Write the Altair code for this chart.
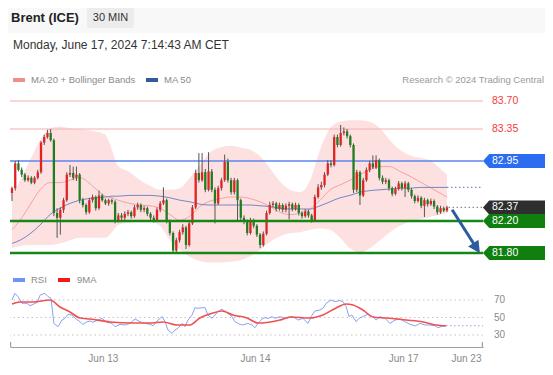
import altair as alt
import pandas as pd

# ---------------- data ----------------
opens = [82.55,82.61,82.92,82.84,82.78,82.71,82.74,82.68,82.74,82.81,
83.18,83.25,83.30,83.21,82.30,82.24,82.34,82.46,82.78,82.80,
82.74,82.78,82.46,82.40,82.31,82.46,82.50,82.36,82.52,82.46,
82.42,82.46,82.44,82.20,82.27,82.24,82.29,82.31,82.26,82.37,
82.40,82.34,82.36,82.29,82.24,82.21,82.34,82.42,82.46,82.20,
82.05,81.83,81.96,82.06,82.12,81.90,82.17,82.37,82.80,82.71,
82.81,82.59,82.82,82.59,82.42,82.61,82.71,82.94,82.71,82.56,
82.71,82.46,82.24,82.19,82.05,82.21,82.14,82.03,81.90,82.04,
82.30,82.40,82.42,82.35,82.40,82.34,82.39,82.41,82.35,82.40,
82.30,82.26,82.32,82.27,82.21,82.50,82.62,82.65,82.78,82.92,
82.90,83.25,83.15,83.30,83.32,83.26,83.15,82.59,82.81,82.52,
82.71,82.84,82.92,82.87,82.96,82.74,82.69,82.71,82.61,82.54,
82.60,82.67,82.61,82.67,82.59,82.51,82.45,82.49,82.39,82.46,
82.41,82.45,82.38,82.31,82.36,82.33]
closes = [82.61,82.92,82.84,82.78,82.71,82.74,82.68,82.74,82.81,83.18,
83.25,83.30,83.21,82.30,82.24,82.34,82.46,82.78,82.80,82.74,
82.78,82.46,82.40,82.31,82.46,82.50,82.36,82.52,82.46,82.42,
82.46,82.44,82.20,82.27,82.24,82.29,82.31,82.26,82.37,82.40,
82.34,82.36,82.29,82.24,82.21,82.34,82.42,82.46,82.20,82.05,
81.83,81.96,82.06,82.12,81.90,82.17,82.37,82.80,82.71,82.81,
82.59,82.82,82.59,82.42,82.61,82.71,82.94,82.71,82.56,82.71,
82.46,82.24,82.19,82.05,82.21,82.14,82.03,81.90,82.04,82.30,
82.40,82.42,82.35,82.40,82.34,82.39,82.41,82.35,82.40,82.30,
82.26,82.32,82.27,82.21,82.50,82.62,82.65,82.78,82.92,82.90,
83.25,83.15,83.30,83.32,83.26,83.15,82.59,82.81,82.52,82.71,
82.84,82.92,82.87,82.96,82.74,82.69,82.71,82.61,82.54,82.60,
82.67,82.61,82.67,82.59,82.51,82.45,82.49,82.39,82.46,82.41,
82.45,82.38,82.31,82.36,82.33,82.37]
highs = [82.63,82.95,82.96,82.87,82.80,82.77,82.76,82.76,82.84,83.20,
83.28,83.34,83.35,83.23,82.36,82.37,82.49,82.81,82.90,82.88,
82.88,82.80,82.49,82.42,82.49,82.53,82.52,82.58,82.54,82.48,
82.48,82.48,82.46,82.30,82.30,82.32,82.34,82.33,82.40,82.43,
82.42,82.39,82.38,82.31,82.27,82.37,82.45,82.62,82.48,82.22,
82.07,81.99,82.09,82.16,82.14,82.20,82.40,82.84,83.05,83.05,
82.85,83.06,82.85,82.62,82.64,82.74,83.03,82.98,82.74,82.74,
82.73,82.48,82.27,82.22,82.24,82.23,82.16,82.05,82.07,82.33,
82.44,82.45,82.44,82.43,82.42,82.42,82.44,82.43,82.43,82.42,
82.32,82.35,82.34,82.29,82.53,82.66,82.69,82.81,82.96,82.96,
83.28,83.28,83.40,83.37,83.35,83.28,83.17,82.84,82.83,82.74,
82.87,82.95,83.02,83.02,82.98,82.77,82.74,82.73,82.63,82.63,
82.70,82.69,82.70,82.69,82.61,82.53,82.52,82.51,82.49,82.48,
82.48,82.47,82.40,82.39,82.38,82.39]
lows = [82.45,82.58,82.82,82.75,82.69,82.69,82.66,82.66,82.72,82.79,
83.15,83.23,83.19,82.26,81.99,82.03,82.30,82.44,82.75,82.71,
82.70,82.42,82.37,82.28,82.29,82.43,82.33,82.34,82.44,82.40,
82.39,82.41,82.17,82.18,82.21,82.21,82.26,82.23,82.24,82.34,
82.31,82.31,82.26,82.21,82.18,82.19,82.31,82.40,82.17,82.02,
81.80,81.81,81.93,82.03,81.85,81.88,82.15,82.35,82.68,82.69,
82.56,82.57,82.56,82.17,82.40,82.58,82.69,82.68,82.53,82.53,
82.20,82.21,82.16,82.02,82.03,82.11,82.00,81.86,81.88,82.02,
82.28,82.37,82.32,82.33,82.31,82.31,82.22,82.32,82.33,82.27,
82.23,82.24,82.24,82.18,82.19,82.48,82.59,82.62,82.76,82.87,
82.88,83.12,83.13,83.27,83.23,83.12,82.55,82.56,82.40,82.50,
82.69,82.81,82.85,82.85,82.71,82.66,82.66,82.58,82.51,82.52,
82.58,82.58,82.50,82.56,82.48,82.42,82.43,82.36,82.25,82.38,
82.39,82.35,82.28,82.29,82.31,82.31]

band_idx = [0, 2.5, 5.6, 8.7, 11.8, 14.9, 18.0, 21.1, 25.8, 28.9, 31.0, 32.9, 36.6, 39.7, 42.8,
            45.9, 49.0, 52.1, 55.2, 58.3, 61.5, 64.6, 67.7, 70.8, 73.9, 77.0, 80.1, 83.2, 86.3,
            89.4, 92.5, 95.6, 98.7, 101.8, 104.9, 108.0, 111.1, 114.2, 117.3, 120.4, 123.5,
            126.6, 129.7, 132.8, 135.0]
band_upper = [82.52,82.71,82.96,83.21,83.36,83.38,83.36,83.35,83.32,83.28,83.09,82.89,82.81,82.71,
              82.64,82.59,82.59,82.61,82.74,82.90,83.06,83.12,83.14,83.12,83.09,83.01,82.86,82.69,
              82.59,82.56,82.71,83.09,83.36,83.44,83.46,83.46,83.44,83.36,83.21,83.09,83.02,82.99,
              82.96,82.86,82.78]
band_lower = [81.86,81.89,81.90,81.90,81.90,81.92,81.96,81.99,81.99,81.99,82.06,82.15,82.18,82.19,
              82.19,82.14,81.96,81.84,81.75,81.70,81.68,81.68,81.69,81.71,81.76,81.84,81.94,82.01,
              82.05,82.06,82.09,82.11,82.09,81.99,81.86,81.81,81.86,81.96,82.06,82.14,82.19,82.22,
              82.25,82.28,82.30]
ma20 = [82.09,82.21,82.40,82.59,82.68,82.68,82.71,82.74,82.61,82.51,82.49,82.46,82.42,82.40,82.39,
        82.36,82.28,82.21,82.26,82.38,82.45,82.48,82.50,82.50,82.48,82.44,82.38,82.31,82.28,82.30,
        82.35,82.46,82.59,82.65,82.71,82.78,82.84,82.88,82.88,82.82,82.76,82.69,82.62,82.55,82.50]
ma50 = [81.92,81.96,82.04,82.15,82.28,82.36,82.42,82.46,82.49,82.50,82.51,82.51,82.52,82.52,82.52,
        82.51,82.49,82.46,82.44,82.41,82.40,82.40,82.40,82.40,82.40,82.39,82.38,82.36,82.35,82.35,
        82.35,82.39,82.44,82.49,82.52,82.56,82.58,82.59,82.60,82.61,82.61,82.62,82.62,82.62,82.62]

rsi_idx = [0.0,0.9,1.9,3.1,4.7,5.6,6.5,7.8,8.7,10.2,11.2,12.1,13.0,14.3,15.5,16.4,17.4,18.6,19.6,
           21.1,22.0,23.3,24.2,25.1,26.7,27.9,29.5,31.0,32.0,33.5,35.1,36.6,38.2,39.7,41.3,42.8,
           43.8,45.3,46.6,47.5,48.4,49.7,50.6,51.5,52.8,53.7,54.6,55.9,56.8,57.7,59.0,59.9,60.8,
           62.1,63.0,63.9,65.2,66.1,67.0,68.3,69.2,70.1,71.4,72.3,73.2,74.5,75.4,76.4,77.6,78.5,
           79.5,80.7,81.6,83.2,85.0,87.2,88.8,90.3,91.9,92.8,94.0,95.6,96.5,97.5,99.0,100.2,101.8,
           102.7,103.7,104.6,105.5,106.8,107.7,108.9,110.5,112.0,113.0,114.2,115.8,117.3,118.9,
           120.4,122.0,123.5,125.1,126.6,128.2,129.7,131.3,132.2,133.8,134.7]
rsi_val = [70,77.6,73.8,66.2,66.2,63.5,65,67.3,75.5,77.6,73.8,72,43.3,39.5,47.1,49,53.7,52.9,49,
           45.2,42.2,45.2,46,44.5,47.1,49,44.5,43.3,39.5,42.2,41.4,43.3,48.3,45.2,43.3,42.2,
           40.6,47.1,51,45.2,35.7,31.9,35.7,37.6,43.3,39.5,47.1,52.9,61.2,60.5,61.2,61.2,52.9,
           49,52.9,56.7,59.7,56.7,54.8,51,45.2,43.3,41.4,42.2,43.3,41.4,38.4,43.3,48.3,49.8,
           49,51,49,51,49,51,47.1,49,43.3,51,57.4,58.6,60.5,66.2,70,68.1,69.4,
           68.1,62.3,51,52.9,45.2,49,51,53.7,51,47.1,51,49,43.3,47.1,
           48.3,45.2,42.2,40.3,43.3,41.4,41.4,40.6,38.4,40.3,40.6]
ma9_idx = [0,2.5,6.5,11.8,14.9,18.0,21.1,24.2,30.4,37.6,42.8,46.9,51.2,55.2,58.3,62.4,65.2,68.6,
           72.9,76.4,79.1,83.2,86.3,92.5,96.5,100.6,103.7,105.8,108.9,112.0,116.1,122.3,127.6,
           131.6,134.7]
ma9_val = [65.4,67.7,67.7,70,62,56.3,49.4,48.3,44.9,43.7,43.7,44.9,41.4,41.4,49.4,55.1,57.4,52.9,
           49.4,43.7,44.3,47.1,50.6,49.4,52.9,60.9,65.4,64.3,58.6,50.6,49.4,47.1,44.9,41.4,40.3]

red_levels = [83.70, 83.35]
blue_level = [82.95]
green_levels = [82.20, 81.80]
last_price = 82.37
rsi_grid = [70, 50, 30]
tick_pos = [28.2, 75.4, 121.4, 140.9]
tick_labels = ["Jun 13", "Jun 14", "Jun 17", "Jun 23"]
arrow_idx = [136.6, 144.2]
arrow_price = [82.34, 81.86]

# ---------------- scales ----------------
FONT = "Liberation Sans"
XS = alt.Scale(domain=[-0.6207, 146.18], nice=False, zero=False)
YPS = alt.Scale(domain=[80.625, 84.8625], nice=False, zero=False)
YRS = alt.Scale(domain=[16.286, 403.714], nice=False, zero=False)

expr = f"'{tick_labels[-1]}'"
for k in range(len(tick_pos) - 2, -1, -1):
    mid = (tick_pos[k] + tick_pos[k + 1]) / 2
    expr = f"datum.value < {mid} ? '{tick_labels[k]}' : ({expr})"

AX = alt.Axis(values=tick_pos, labelExpr=expr, grid=False, ticks=False, tickSize=0,
              domainColor="#a0a0a0", domainWidth=1.2, labelColor="#8a8a8a", labelFontSize=10,
              labelFont=FONT, labelPadding=6, title=None, labelFlush=False, labelOverlap=False,
              labelBound=False)


def X(f):
    return alt.X(f, type="quantitative", scale=XS, axis=AX)


def YP(f):
    return alt.Y(f, type="quantitative", scale=YPS, axis=None)


def YR(f):
    return alt.Y(f, type="quantitative", scale=YRS, axis=None)


candles = pd.DataFrame({"i": list(range(len(closes))), "o": opens, "h": highs, "l": lows, "c": closes})
candles["col"] = ["#e02424" if c >= o else "#1f7d1f" for o, c in zip(opens, closes)]
band = pd.DataFrame({"i": band_idx, "up": band_upper, "lo": band_lower, "m20": ma20, "m50": ma50})
rsi = pd.DataFrame({"i": rsi_idx, "v": rsi_val})
ma9 = pd.DataFrame({"i": ma9_idx, "v": ma9_val})
one = pd.DataFrame({"a": [0]})
last_i = len(closes) - 1

layers = []

# header band and texts
layers.append(alt.Chart(one).mark_rect(color="#f8f8f8").encode(
    x=alt.value(-2), x2=alt.value(535), y=alt.value(0), y2=alt.value(25)))
layers.append(alt.Chart(one).mark_rect(color="#ececec", cornerRadius=2).encode(
    x=alt.value(77), x2=alt.value(124), y=alt.value(0), y2=alt.value(20)))
layers.append(alt.Chart(one).mark_text(text="Brent (ICE)", font=FONT, fontSize=13, fontWeight="bold",
                                       color="#222222", align="left", baseline="middle").encode(
    x=alt.value(1), y=alt.value(9.5)))
layers.append(alt.Chart(one).mark_text(text="30 MIN", font=FONT, fontSize=11, color="#333333",
                                       align="center", baseline="middle").encode(
    x=alt.value(100.5), y=alt.value(9.5)))
layers.append(alt.Chart(one).mark_text(text="Monday, June 17, 2024 7:14:43 AM CET", font=FONT, fontSize=12,
                                       color="#333333", align="left", baseline="middle").encode(
    x=alt.value(3), y=alt.value(37)))

# legends
def swatch(x0, x1, y, color):
    return alt.Chart(one).mark_rect(color=color).encode(
        x=alt.value(x0), x2=alt.value(x1), y=alt.value(y - 2), y2=alt.value(y + 2))


def label(txt, x, y, color="#8a8a8a", size=9.5, align="left"):
    return alt.Chart(one).mark_text(text=txt, font=FONT, fontSize=size, color=color,
                                    align=align, baseline="middle").encode(x=alt.value(x), y=alt.value(y))


layers += [swatch(3, 15, 72, "#f28b8b"), label("MA 20 + Bollinger Bands", 21, 72),
           swatch(136, 148, 72, "#2f5b9e"), label("MA 50", 154, 72),
           label("Research \u00a9 2024 Trading Central", 534, 72, color="#9a9a9a", align="right"),
           swatch(3, 15, 272, "#6f95ee"), label("RSI", 21, 272),
           swatch(48, 60, 272, "#f01c1c"), label("9MA", 67, 272)]

# Bollinger band, moving averages
layers.append(alt.Chart(band).mark_area(color="#fde0e0", interpolate="monotone").encode(
    x=X("i"), y=YP("lo"), y2=alt.Y2("up")))
layers.append(alt.Chart(pd.DataFrame({"v": red_levels})).mark_rule(color="#f6b0b0", strokeWidth=1.2).encode(y=YP("v")))
layers.append(alt.Chart(pd.DataFrame({"v": blue_level})).mark_rule(color="#5b86ef", strokeWidth=1.5).encode(y=YP("v")))
layers.append(alt.Chart(band).mark_line(color="#f4a3a3", strokeWidth=1, interpolate="monotone").encode(
    x=X("i"), y=YP("m20")))
layers.append(alt.Chart(band).mark_line(color="#7388c4", strokeWidth=1, interpolate="monotone").encode(
    x=X("i"), y=YP("m50")))

# dotted extensions
layers.append(alt.Chart(pd.DataFrame({"i": [band_idx[-1]], "v": [ma50[-1]]})).mark_rule(
    color="#7a8fcc", strokeDash=[1.5, 2.5], strokeWidth=1.2).encode(x=X("i"), x2=alt.value("width"), y=YP("v")))
layers.append(alt.Chart(pd.DataFrame({"i": [last_i + 0.5], "v": [last_price]})).mark_rule(
    color="#8a8a8a", strokeDash=[1.5, 2.5], strokeWidth=1.2).encode(x=X("i"), x2=alt.value("width"), y=YP("v")))

# candles
layers.append(alt.Chart(candles).mark_rule(color="#555555", strokeWidth=1).encode(
    x=X("i"), y=YP("l"), y2=alt.Y2("h")))
layers.append(alt.Chart(candles).mark_rule(strokeWidth=2.3).encode(
    x=X("i"), y=YP("o"), y2=alt.Y2("c"), color=alt.Color("col:N", scale=None)))

# green support lines
layers.append(alt.Chart(pd.DataFrame({"v": green_levels})).mark_rule(color="#168616", strokeWidth=2.5).encode(y=YP("v")))

# arrow
arrow = pd.DataFrame({"i": arrow_idx, "v": arrow_price})
layers.append(alt.Chart(arrow).mark_line(color="#2e5b9c", strokeWidth=3).encode(x=X("i"), y=YP("v")))
layers.append(alt.Chart(arrow.iloc[[1]]).mark_point(shape="M-1,-1L1,-1L0,1Z", size=150, angle=327,
                                                     filled=True, opacity=1, color="#2e5b9c", strokeWidth=0).encode(
    x=X("i"), y=YP("v")))

# right-side labels
layers.append(alt.Chart(pd.DataFrame({"v": red_levels, "t": [f"{v:.2f}" for v in red_levels]})).mark_text(
    font=FONT, fontSize=10.5, color="#f43c3c", align="left", baseline="middle").encode(
    x=alt.value(482), y=YP("v"), text="t:N"))
tags = pd.DataFrame({"v": blue_level + [last_price] + green_levels,
                     "col": ["#2c6cf0", "#2e2e2e", "#0f7f0f", "#0f7f0f"]})
tags["t"] = [f"{v:.2f}" for v in tags["v"]]
layers.append(alt.Chart(tags).mark_point(
    shape="M-1,0L-0.8,-0.2258L1,-0.2258L1,0.2258L-0.8,0.2258Z", size=3844, filled=True, opacity=1,
    strokeWidth=0).encode(x=alt.value(504), y=YP("v"), color=alt.Color("col:N", scale=None)))
layers.append(alt.Chart(tags).mark_text(font=FONT, fontSize=10.5, color="white", align="left",
                                        baseline="middle").encode(x=alt.value(482), y=YP("v"), text="t:N"))

# RSI panel
layers.append(alt.Chart(pd.DataFrame({"v": rsi_grid})).mark_rule(color="#c4c4c4", strokeDash=[1.5, 3],
                                                                  strokeWidth=1).encode(y=YR("v")))
layers.append(alt.Chart(pd.DataFrame({"v": rsi_grid, "t": [str(v) for v in rsi_grid]})).mark_text(
    font=FONT, fontSize=10, color="#8a8a8a", align="left", baseline="middle").encode(
    x=alt.value(484), y=YR("v"), text="t:N"))
layers.append(alt.Chart(rsi).mark_line(color="#86a3f0", strokeWidth=1).encode(x=X("i"), y=YR("v")))
layers.append(alt.Chart(ma9).mark_line(color="#f25050", strokeWidth=1.6, interpolate="monotone").encode(
    x=X("i"), y=YR("v")))
layers.append(alt.Chart(pd.DataFrame({"i": [rsi_idx[-1]], "v": [rsi_val[-1]]})).mark_rule(
    color="#86a3f0", strokeDash=[1.5, 2.5], strokeWidth=1.2).encode(x=X("i"), x2=alt.value("width"), y=YR("v")))

# axis end caps
layers.append(alt.Chart(one).mark_rule(color="#a0a0a0", strokeWidth=1.2).encode(
    x=alt.value(0.6), y=alt.value(334), y2=alt.value(339)))
layers.append(alt.Chart(one).mark_rule(color="#a0a0a0", strokeWidth=1.2).encode(
    x=alt.value(472.4), y=alt.value(334), y2=alt.value(339)))

chart = alt.layer(*layers).resolve_scale(y="independent").properties(
    width=473, height=339,
    padding={"left": 2, "top": 0, "right": 62, "bottom": 20},
    autosize=alt.AutoSizeParams(type="none"),
    background="white",
).configure_view(stroke=None)

chart.save("out.html", embed_options={"renderer": "svg", "actions": False})
